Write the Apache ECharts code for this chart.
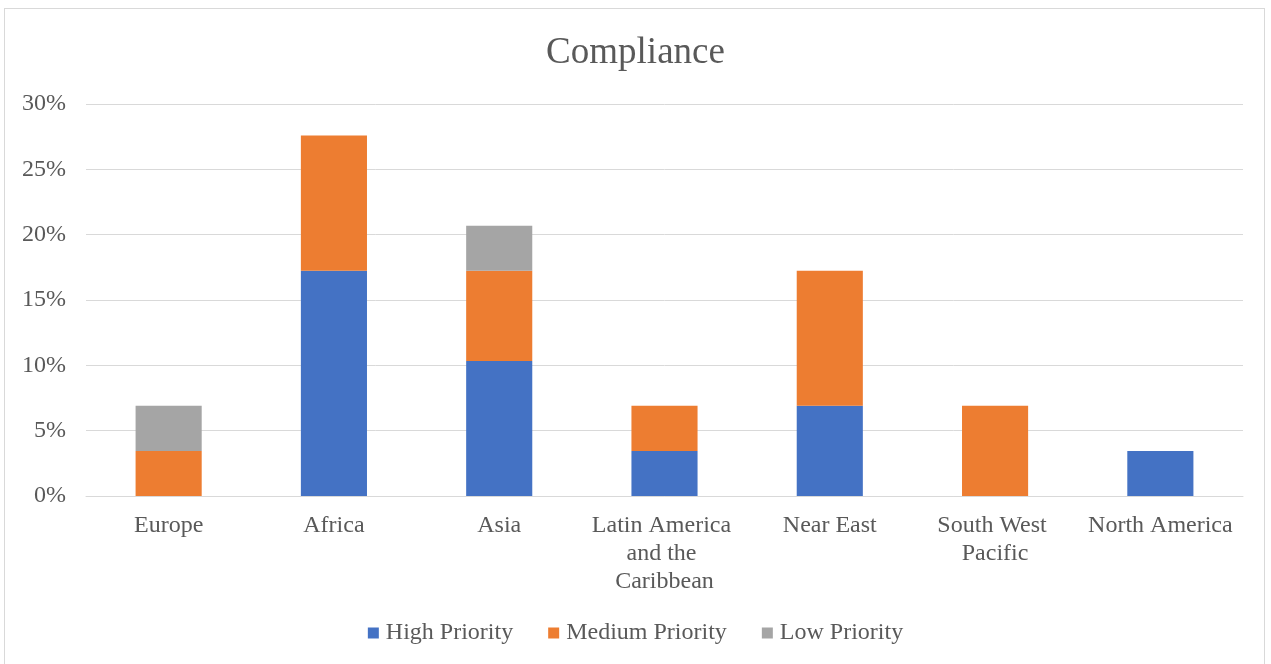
<!DOCTYPE html>
<html>
<head>
<meta charset="utf-8">
<script src="https://cdn.jsdelivr.net/npm/echarts@6/dist/echarts.min.js"></script>
<style>
html,body{margin:0;padding:0;background:#fff;}
#frame{position:absolute;left:4px;top:8px;width:1261px;height:660px;border:1px solid #D9D9D9;box-sizing:border-box;}
#chart{position:absolute;left:0;top:0;width:1271px;height:664px;}
</style>
</head>
<body>
<div id="frame"></div>
<div id="chart"></div>
<script>
const categories = ['Europe', 'Africa', 'Asia', 'Latin America and the Caribbean', 'Near East', 'South West Pacific', 'North America'];
const highPriority = [0, 17.24, 10.34, 3.45, 6.90, 0, 3.45];
const mediumPriority = [3.45, 10.34, 6.90, 3.45, 10.34, 6.90, 0];
const lowPriority = [3.45, 0, 3.45, 0, 0, 0, 0];
const yTicks = [0, 5, 10, 15, 20, 25, 30];

const font = '"Liberation Serif", "Times New Roman", serif';
const chart = echarts.init(document.getElementById('chart'), null, {renderer: 'canvas'});
function mk(name, data, color) {
  return {
    name, type: 'bar', stack: 'total', data, barWidth: '40%',
    itemStyle: {color},
    emphasis: {disabled: true}
  };
}
chart.setOption({
  animation: false,
  title: {
    text: 'Compliance', left: 'center', top: 30,
    textStyle: {fontFamily: font, fontSize: 37, fontWeight: 'normal', color: '#595959'}
  },
  legend: {
    bottom: 14, left: 'center', itemWidth: 11, itemHeight: 11, itemGap: 35,
    icon: 'rect',
    textStyle: {fontFamily: font, fontSize: 24, color: '#595959', padding: [0, 0, 0, 2]},
    data: ['High Priority', 'Medium Priority', 'Low Priority']
  },
  grid: {left: 86, right: 28, top: 104, bottom: 168, containLabel: false},
  xAxis: {
    type: 'category', data: categories,
    axisLine: {lineStyle: {color: '#D9D9D9', width: 1}},
    axisTick: {show: false},
    axisLabel: {
      fontFamily: font, fontSize: 24, color: '#595959', margin: 16,
      width: 155, overflow: 'break', lineHeight: 28, interval: 0
    }
  },
  yAxis: {
    type: 'value', min: yTicks[0], max: yTicks[yTicks.length - 1], interval: 5,
    axisLine: {show: false}, axisTick: {show: false},
    axisLabel: {formatter: '{value}%', fontFamily: font, fontSize: 24, color: '#595959', margin: 20, padding: [3, 0, 0, 0]},
    splitLine: {lineStyle: {color: '#D9D9D9', width: 1}}
  },
  series: [
    mk('High Priority', highPriority, '#4472C4'),
    mk('Medium Priority', mediumPriority, '#ED7D31'),
    mk('Low Priority', lowPriority, '#A5A5A5')
  ]
});
</script>
</body>
</html>
